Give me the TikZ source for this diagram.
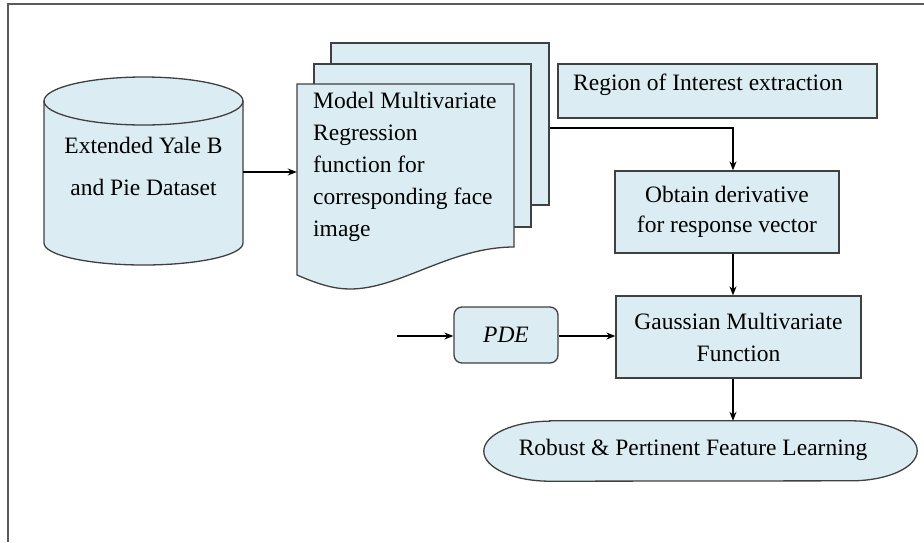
\documentclass[tikz,border=0pt]{standalone}
\usepackage{fontspec}
\setmainfont{Liberation Serif}
\usetikzlibrary{arrows.meta,backgrounds}
\definecolor{boxfill}{RGB}{219,237,243}
\definecolor{boxedge}{RGB}{64,64,64}
\definecolor{framecol}{RGB}{90,90,90}
\tikzset{
  shapebox/.style={draw=boxedge,fill=boxfill,line width=1.3pt},
  plainbox/.style={rectangle,shapebox,inner sep=0pt},
  ghost/.style={rectangle,inner sep=0pt},
  txt/.style={font=\fontsize{23.5}{32}\selectfont,inner sep=0pt},
  arr/.style={-{Stealth[length=9pt,width=7pt]},line width=1.3pt,black},
}
\begin{document}
\begin{tikzpicture}[x=1pt,y=1pt]
\useasboundingbox (0,0) rectangle (924,-542);
% outer frame (top and left only)
\draw[framecol,line width=2pt] (8,-542) -- (8,-4) -- (924,-4);

% cylinder (database)
\path[shapebox] (44,-101) -- (44,-243)
  arc[start angle=180,end angle=360,x radius=99.5pt,y radius=22pt]
  -- (243,-101)
  arc[start angle=0,end angle=180,x radius=99.5pt,y radius=24pt] -- cycle;
\draw[boxedge,line width=1.3pt] (44,-101)
  arc[start angle=180,end angle=360,x radius=99.5pt,y radius=24pt];
\node[ghost,minimum width=199pt,minimum height=142pt] (db) at (143.5,-172) {};
\node[txt,align=center,font=\fontsize{23.5}{42}\selectfont] (dbtext) at (143.5,-166) {Extended Yale B\\and Pie Dataset};

% stacked documents
\node[plainbox,minimum width=218pt,minimum height=162pt] (back) at (440,-124) {};
\node[plainbox,minimum width=217pt,minimum height=163pt] (mid) at (422.5,-145.5) {};
\path[shapebox] (297,-84) -- (514,-84) -- (514,-247)
  .. controls (450,-247) and (400,-289) .. (350,-289)
  .. controls (335,-289) and (320,-285) .. (297,-275) -- cycle;
\node[ghost,minimum width=217pt,minimum height=191pt] (doc) at (405.5,-179.5) {};
\node[txt,align=left,anchor=west] (doctext) at (313,-166.5)
  {Model Multivariate\\Regression\\function for\\corresponding face\\image};

% region of interest
\node[plainbox,minimum width=319pt,minimum height=54pt] (roi) at (717.5,-91) {};
\node[txt,anchor=west] (roitext) at (573,-85) {Region of Interest extraction};

% obtain derivative
\node[plainbox,txt,align=center,minimum width=224pt,minimum height=82pt,
  font=\fontsize{23.5}{30}\selectfont] (obtain) at (727,-212)
  {Obtain derivative\\for response vector};

% gaussian
\node[plainbox,txt,align=center,minimum width=245pt,minimum height=82pt] (gauss) at (738.5,-337)
  {Gaussian Multivariate\\Function};

% PDE
\node[plainbox,txt,rounded corners=8pt,minimum width=104pt,minimum height=56pt] (pde) at (506,-335)
  {\itshape PDE};
\coordinate (pdein) at (397,-336);

% robust
\node[ghost,minimum width=433pt,minimum height=60pt] (robust) at (700.5,-451) {};
\path[shapebox] ([xshift=66pt]robust.north west) -- ([xshift=-66pt]robust.north east)
  arc[start angle=90,end angle=-90,x radius=66pt,y radius=30pt]
  -- ([xshift=66pt]robust.south west)
  arc[start angle=270,end angle=90,x radius=66pt,y radius=30pt] -- cycle;
\node[txt] (robusttext) at (693,-450) {Robust \& Pertinent Feature Learning};

% connectors
\draw[arr] (db.east) -- (db.east -| doc.west);
\draw[arr] ([yshift=-4pt]back.east) -| ([xshift=6pt]obtain.north);
\draw[arr] ([xshift=6pt]obtain.south) -- ([xshift=6pt]obtain.south |- gauss.north);
\draw[arr] (pdein) -- (pdein -| pde.west);
\draw[arr] (pdein -| pde.east) -- (pdein -| gauss.west);
\draw[arr] ([xshift=-5.5pt]gauss.south) -- ([xshift=-5.5pt]gauss.south |- robust.north);
\end{tikzpicture}
\end{document}
